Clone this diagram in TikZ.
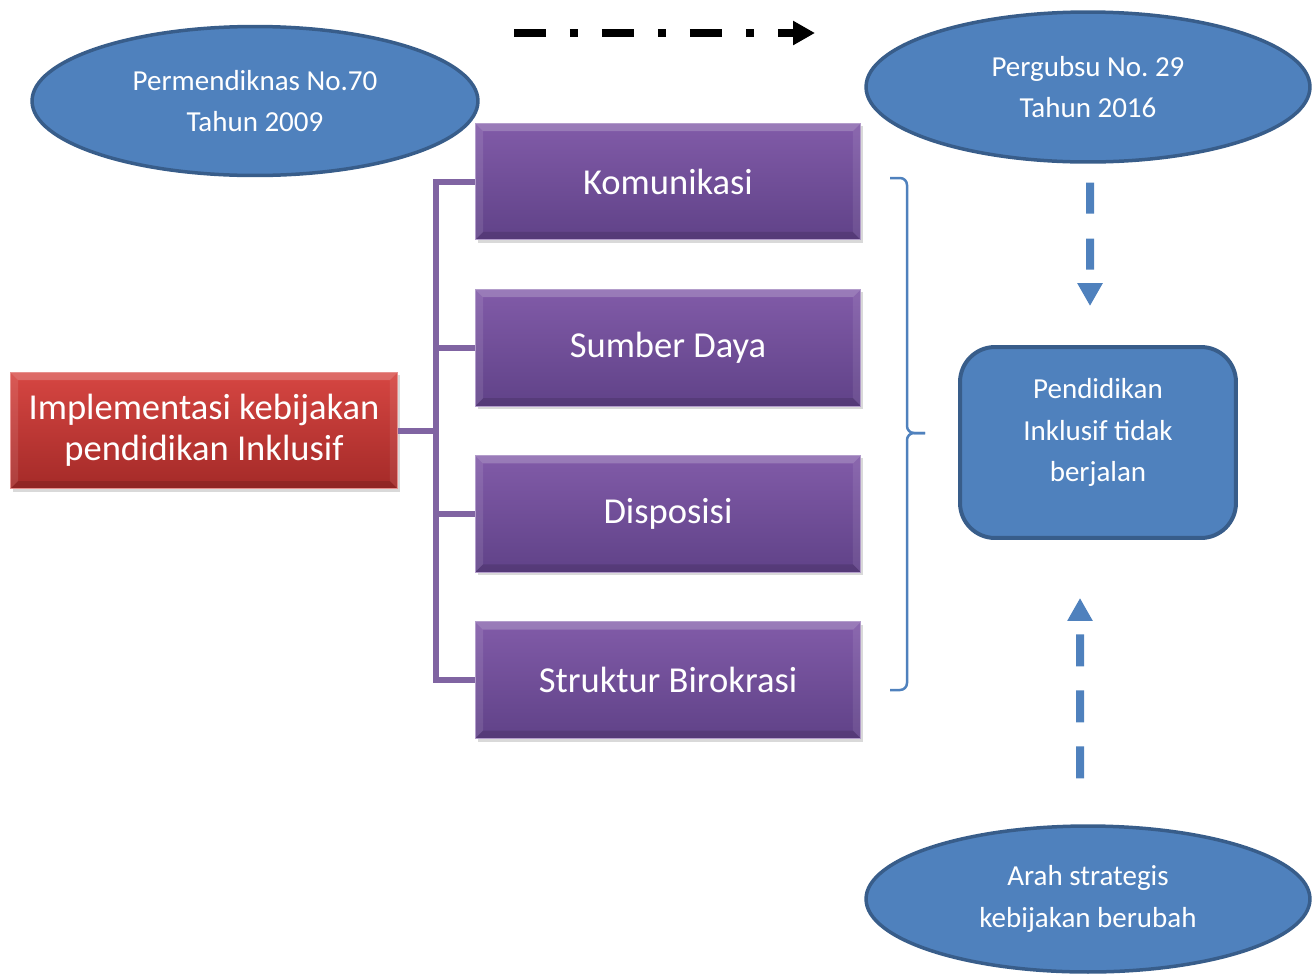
\documentclass[tikz,border=0pt]{standalone}
\usepackage{fontspec}
\setmainfont{Carlito}
\usetikzlibrary{arrows.meta, positioning, shapes.geometric, shadows}
\definecolor{ovalBlue}{RGB}{79,129,189}
\definecolor{ovalLine}{RGB}{56,93,138}
\definecolor{purpleTop}{RGB}{129,91,168}
\definecolor{purpleBot}{RGB}{96,66,136}
\definecolor{redTop}{RGB}{214,70,66}
\definecolor{redBot}{RGB}{164,42,40}
\definecolor{treeLine}{RGB}{128,100,162}

\begin{document}
\begin{tikzpicture}[x=0.02cm, y=-0.02cm, node distance=0.965cm]
	\tikzstyle{bevel} = [path picture={
		\path (path picture bounding box.north west) coordinate (bNW) 
		(path picture bounding box.north east) coordinate (bNE) 
		(path picture bounding box.south west) coordinate (bSW) 
		(path picture bounding box.south east) coordinate (bSE);
		\fill [white, opacity=0.2] (bNW) -- (bNE) -- ([shift={(-0.16cm,-0.16cm)}]bNE) 
		-- ([shift={(0.16cm,-0.16cm)}]bNW) -- cycle;
		\fill [white, opacity=0.1] (bNW) -- (bSW) -- ([shift={(0.16cm,0.16cm)}]bSW) 
		-- ([shift={(0.16cm,-0.16cm)}]bNW) -- cycle;
		\fill [white, opacity=0.08] (bNE) -- (bSE) -- ([shift={(-0.16cm,0.16cm)}]bSE) 
		-- ([shift={(-0.16cm,-0.16cm)}]bNE) -- cycle;
		\fill [black, opacity=0.12] (bSW) -- (bSE) -- ([shift={(-0.16cm,0.16cm)}]bSE) 
		-- ([shift={(0.16cm,0.16cm)}]bSW) -- cycle;}]
	\tikzstyle{regulasi} = [ellipse, draw=ovalLine, line width=0.07cm, 
	fill=ovalBlue, text=white, align=center, inner sep=0pt, 
	font=\fontsize{16.5}{23.6}\selectfont]
	\tikzstyle{faktor} = [rectangle, bevel, minimum width=7.72cm, minimum height=2.34cm, 
	top color=purpleTop, bottom color=purpleBot, draw=purpleTop!60!white, 
	line width=0.02cm, text=white, font=\fontsize{20.8}{23.6}\selectfont, 
	drop shadow={opacity=0.3, shadow xshift=0.05cm, shadow yshift=-0.06cm}]
	\tikzstyle{pusat} = [rectangle, bevel, minimum width=7.76cm, minimum height=2.34cm, 
	top color=redTop, bottom color=redBot, draw=redTop!60!white, 
	line width=0.02cm, text=white, align=center, 
	font=\fontsize{20.8}{23.6}\selectfont, 
	drop shadow={opacity=0.3, shadow xshift=0.05cm, shadow yshift=-0.06cm}]
	\tikzstyle{hasil} = [rectangle, rounded corners=0.7cm, minimum width=5.52cm, 
	minimum height=3.82cm, draw=ovalLine, line width=0.08cm, fill=ovalBlue, 
	text=white, align=center, text depth=0.5cm, 
	font=\fontsize{16.5}{23.6}\selectfont]
	\tikzstyle{tree} = [draw=treeLine, line width=0.12cm]
	\tikzstyle{brace} = [draw=ovalBlue, line width=0.05cm, rounded corners=0.14cm]
	\tikzstyle{bluedash} = [draw=ovalBlue, line width=0.16cm, 
	-{Triangle[length=0.46cm, width=0.48cm]}]
	\useasboundingbox (0,0) rectangle (1312,978);
	\node (permen) [regulasi, minimum width=8.92cm, minimum height=2.98cm] 
	at (255,101) {Permendiknas No.70\\Tahun 2009};
	\node (pergub) [regulasi, minimum width=8.88cm, minimum height=3cm] 
	at (1088,87) {Pergubsu No.\ 29\\Tahun 2016};
	\node (arah) [regulasi, minimum width=8.88cm, minimum height=2.92cm] 
	at (1088,899) {Arah strategis\\kebijakan berubah};
	\node (kom) [faktor] at (668,181.5) {Komunikasi};
	\node (sumber) [faktor, below=of kom] {Sumber Daya};
	\node (disp) [faktor, below=of sumber] {Disposisi};
	\node (struk) [faktor, below=of disp] {Struktur Birokrasi};
	\node (impl) [pusat] at (204,430.5) {Implementasi kebijakan\\pendidikan Inklusif};
	\node (pend) [hasil] at (1098,442.5) {Pendidikan\\Inklusif tidak\\berjalan};
	\coordinate (panahAwal) at (514,33);
	\coordinate (panahAkhir) at (815,33);
	\draw [tree] (impl.east) -- ++(38,0);
	\draw [tree] (kom.west) -- ++(-39,0) |- (struk.west);
	\draw [tree] (sumber.west) -- ++(-39,0);
	\draw [tree] (disp.west) -- ++(-39,0);
	\draw [brace] (890,178) -| (907,433) -- (925,433);
	\draw [brace] (925,433) -- (907,433) |- (890,690);
	\draw [bluedash, dash pattern=on 0.62cm off 0.5cm, shorten <=0.38cm, 
	shorten >=0.78cm] ([xshift=0.04cm]pergub.south) -- ([xshift=-0.16cm]pend.north);
	\draw [bluedash, dash pattern=on 0.64cm off 0.48cm, shorten <=0.92cm, 
	shorten >=1.16cm] ([xshift=-0.16cm]arah.north) -- ([xshift=-0.36cm]pend.south);
	\draw [line width=0.16cm, dash pattern=on 0.64cm off 0.48cm on 0.16cm off 0.48cm, 
	-{Triangle[length=0.44cm, width=0.46cm]}] (panahAwal) -- (panahAkhir);
\end{tikzpicture}
\end{document}
